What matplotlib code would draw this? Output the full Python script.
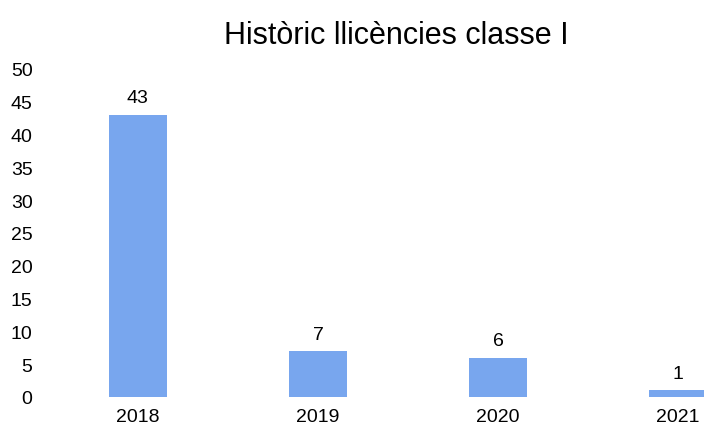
import matplotlib
matplotlib.use("Agg")
import matplotlib.pyplot as plt

years = ["2018", "2019", "2020", "2021"]
licences = [43, 7, 6, 1]
title = "Històric llicències classe I"

plt.rcParams['font.family'] = ['Liberation Sans', 'DejaVu Sans']

fig = plt.figure(figsize=(7.04, 4.31), dpi=100, facecolor='white')
# axes runs a bit past the right edge, like the cropped original
ax = fig.add_axes([0.068, 0.0766, 1.023, 0.761])

pos = list(range(len(years)))
bars = ax.bar(pos, licences, width=0.32, color='#78a6ee')
for b, v in zip(bars, licences):
    ax.text(b.get_x() + b.get_width() / 2, v + 1.3, str(v),
            ha='center', va='bottom', fontsize=14)

ax.set_xlim(-0.5, 3.5)
ax.set_ylim(0, 50)
ax.set_yticks(range(0, 51, 5))
ax.set_xticks(pos)
ax.set_xticklabels(years)
ax.tick_params(axis='both', length=0, labelsize=14)
ax.tick_params(axis='y', pad=11)
ax.tick_params(axis='x', pad=8)
for s in ax.spines.values():
    s.set_visible(False)

fig.text(0.5625, 0.916, title, ha='center', va='center', fontsize=22)

plt.savefig("out.png", dpi=100)
